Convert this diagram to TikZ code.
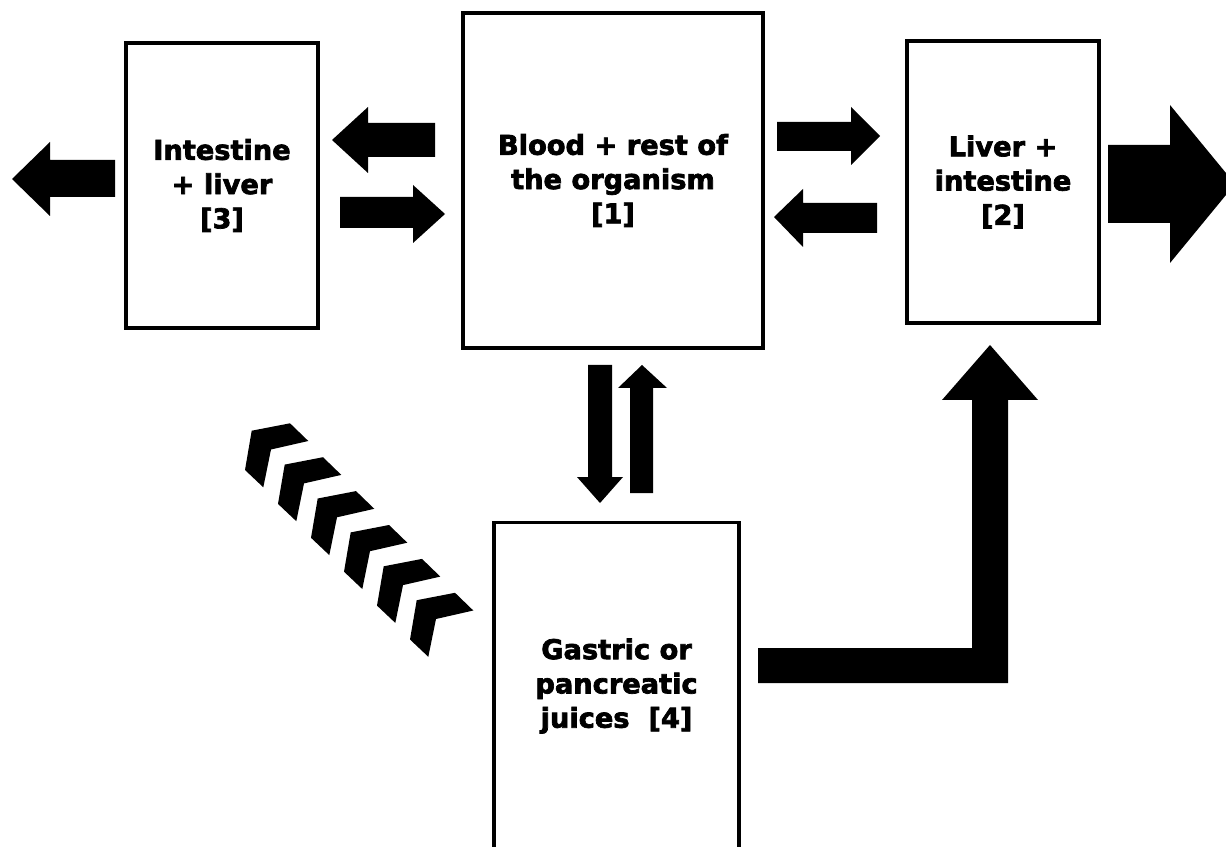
\documentclass[tikz,border=0pt]{standalone}
\usepackage{fontspec}
\usepackage{tikz}
\usetikzlibrary{positioning}
\newfontfamily\boxfont{DejaVu Sans}[BoldFeatures={FakeBold=2.6}]

\tikzset{
  organ/.style={draw, line width=1.8pt, inner sep=0pt, align=center,
    font=\boxfont\bfseries\fontsize{15.5}{19.5}\selectfont},
  blk/.style={fill=black}
}

\begin{document}
\begin{tikzpicture}[x=0.02cm,y=-0.02cm]
  \useasboundingbox (0,0) rectangle (1226,847);
  \clip (0,0) rectangle (1226,847);

  % compartments
  \node[organ, minimum width=3.84cm, minimum height=5.70cm] (intest) at (222,185.5)
    {Intestine\\+ liver\\{[3]}};
  \node[organ, minimum width=6.00cm, minimum height=6.70cm] (blood) at (613,180.5)
    {Blood + rest of\\the organism\\{[1]}};
  \node[organ, minimum width=3.84cm, minimum height=5.64cm] (liver) at (1003,182)
    {Liver +\\intestine\\{[2]}};
  \node[organ, minimum width=4.90cm, minimum height=6.54cm] (juices) at (616.5,686)
    {Gastric or\\pancreatic\\juices\ \ {[4]}};

  % horizontal block arrows
  \fill[blk] (115,160) -- (50,160) -- (50,142) -- (12,179) -- (50,216) -- (50,197) -- (115,197) -- cycle;
  \fill[blk] (435,123) -- (368,123) -- (368,107) -- (332,140) -- (368,173) -- (368,157) -- (435,157) -- cycle;
  \fill[blk] (340,197) -- (413,197) -- (413,185) -- (445,214) -- (413,243) -- (413,228) -- (340,228) -- cycle;
  \fill[blk] (777,122) -- (851,122) -- (851,107) -- (880,136) -- (851,165) -- (851,151) -- (777,151) -- cycle;
  \fill[blk] (877,203) -- (803,203) -- (803,189) -- (774,217) -- (803,247) -- (803,233) -- (877,233) -- cycle;
  \fill[blk] (1108,145) -- (1170,145) -- (1170,105) -- (1235,184) -- (1170,263) -- (1170,223) -- (1108,223) -- cycle;

  % vertical block arrows
  \fill[blk] (588,365) -- (612,365) -- (612,477) -- (623,477) -- (600,503) -- (577,477) -- (588,477) -- cycle;
  \fill[blk] (630,493) -- (653,493) -- (653,388) -- (667,388) -- (642,365) -- (618,388) -- (630,388) -- cycle;

  % bent arrow to liver
  \fill[blk] (758,648) -- (972,648) -- (972,400) -- (942,400) -- (990,345) -- (1038,400)
    -- (1008,400) -- (1008,683) -- (758,683) -- cycle;

  % chevrons
  \foreach \i in {0,...,5} {
    \fill[blk, shift={(\i*33,\i*33.9)}] (251.7,430.7) -- (290,423.3) -- (308.3,441)
      -- (271,449.5) -- (263.3,487.3) -- (245,470) -- cycle;
  }
\end{tikzpicture}
\end{document}
